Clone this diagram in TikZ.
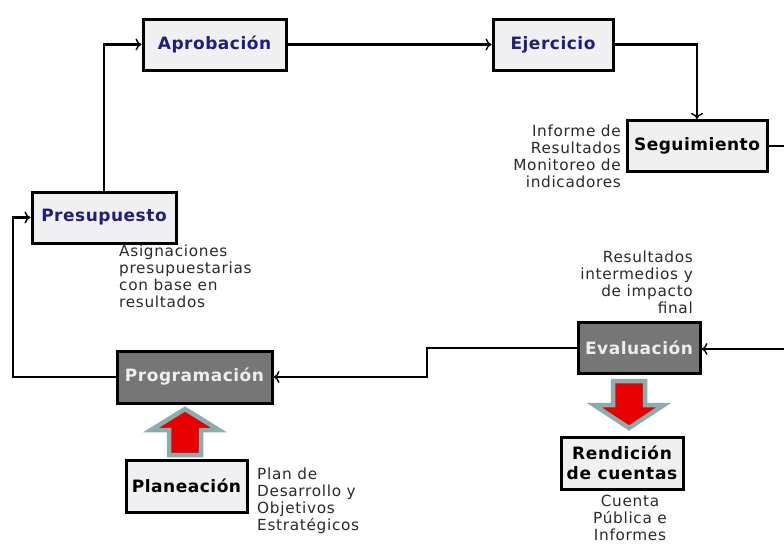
\documentclass[tikz,border=0pt]{standalone}
\usepackage{fontspec}
\setmainfont{DejaVu Sans}
\usetikzlibrary{arrows.meta}
\definecolor{navy}{HTML}{1E1E7E}
\definecolor{boxfill}{HTML}{F0F0F2}
\definecolor{darkfill}{HTML}{767676}
\definecolor{lighttext}{HTML}{EDEDED}
\definecolor{arrowedge}{HTML}{88AEB2}
\definecolor{arrowred}{HTML}{E80000}
\definecolor{notetext}{HTML}{2A2A2A}
\begin{document}
\begin{tikzpicture}[x=1pt,y=-1pt,
  procbox/.style={draw=black, line width=3pt, fill=boxfill, inner sep=0pt,
    font=\fontsize{17}{20}\selectfont\bfseries\addfontfeature{LetterSpace=3}, align=center},
  darkbox/.style={procbox, fill=darkfill, text=lighttext},
  note/.style={font=\fontsize{15.3}{16.8}\selectfont\addfontfeature{LetterSpace=4.5}, text=notetext, inner sep=0pt},
  conn/.style={line width=2.2pt, -{To[length=6pt,width=12pt,line width=1.4pt]}},
  plain/.style={line width=2.2pt},
  blockarrow/.style={fill=arrowred, draw=arrowedge, line width=4.5pt, line join=miter}
]
\useasboundingbox (0,0) rectangle (784,544);
\fill[white] (0,0) rectangle (784,544);

\node[procbox, text=navy, minimum width=143pt, minimum height=51pt] (aprob) at (214.5,44.5) {Aprobación};
\node[procbox, text=navy, minimum width=120pt, minimum height=51pt] (ejer) at (553,44.5) {Ejercicio};
\node[procbox, minimum width=140pt, minimum height=51pt] (segui) at (697,146) {Seguimiento};
\node[procbox, text=navy, minimum width=144pt, minimum height=51pt] (presu) at (104,217.5) {Presupuesto};
\node[darkbox, minimum width=155pt, minimum height=52pt] (progr) at (194.5,377) {Programación};
\node[darkbox, minimum width=122pt, minimum height=51pt] (evalu) at (639,347.5) {Evaluación};
\node[procbox, minimum width=121pt, minimum height=52pt] (plane) at (186.5,486) {Planeación};
\node[procbox, minimum width=122pt, minimum height=52pt, font=\fontsize{17}{20}\selectfont\bfseries\addfontfeature{LetterSpace=4}] (rendi) at (622,463) {Rendición\\de cuentas};

\node[note, align=right, anchor=north east] (n1) at (621,125) {Informe de\\Resultados\\Monitoreo de\\indicadores};
\node[note, align=left, anchor=north west] (n2) at (119,245) {Asignaciones\\presupuestarias\\con base en\\resultados};
\node[note, align=right, anchor=north east] (n3) at (693,251) {Resultados\\intermedios y\\de impacto\\final};
\node[note, align=left, anchor=north west] (n4) at (257,468) {Plan de\\Desarrollo y\\Objetivos\\Estratégicos};
\node[note, align=center, anchor=north] (n5) at (630,495) {Cuenta\\Pública e\\Informes};

\coordinate (segout) at (784,146);
\coordinate (evalin) at (784,349);
\coordinate (stepA) at (427,348);
\coordinate (stepB) at (427,377);
\coordinate (leftcorner) at (13,377);

\draw[conn] (presu.north) |- (aprob.west);
\draw[conn] (aprob.east) -- (ejer.west);
\draw[conn] (ejer.east) -| (segui.north);
\draw[plain] (segui.east) -- (segout);
\draw[conn] (evalin) -- (evalu.east |- evalin);
\draw[conn] (evalu.west |- stepA) -- (stepA) -- (stepB) -- (progr.east);
\draw[conn] (progr.west) -- (leftcorner) |- (presu.west);

\draw[blockarrow] (185,409) -- (219,430) -- (201,430) -- (201,455) -- (169,455) -- (169,430) -- (151,430) -- cycle;
\draw[blockarrow] (629,428) -- (594,405) -- (613,405) -- (613,381) -- (645,381) -- (645,405) -- (664,405) -- cycle;
\end{tikzpicture}
\end{document}
